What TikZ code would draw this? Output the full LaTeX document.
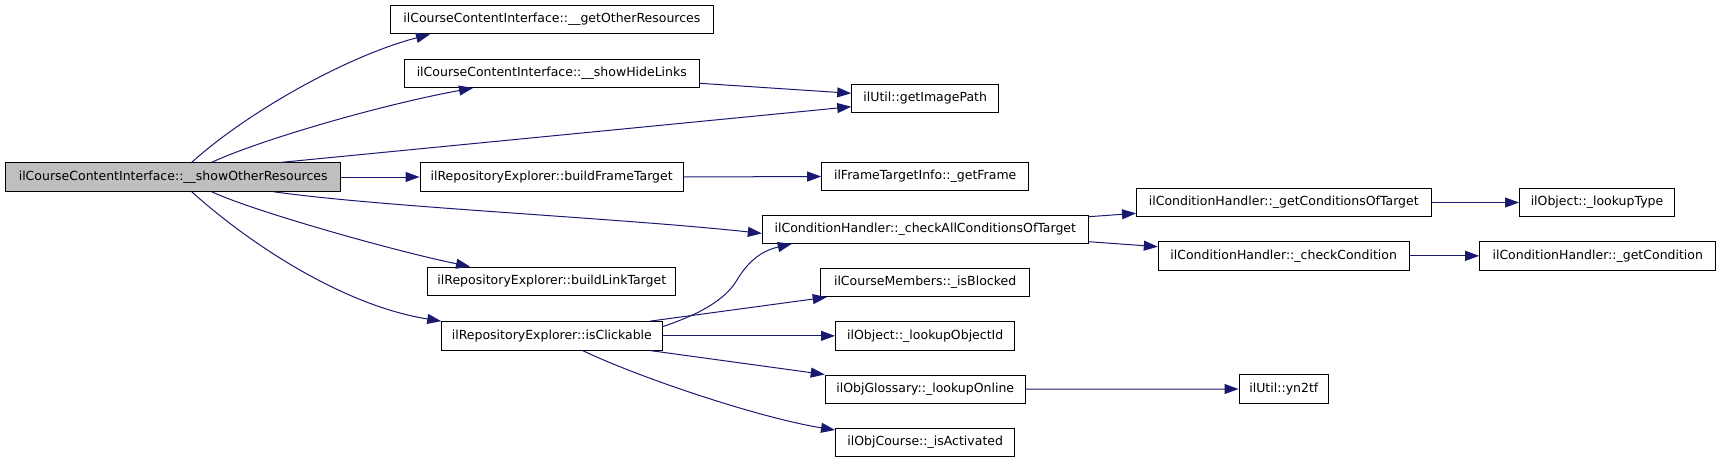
\documentclass[tikz,border=0pt]{standalone}
\usepackage{fontspec}
\setmainfont{DejaVu Sans}
\usetikzlibrary{arrows.meta}
\definecolor{midblue}{HTML}{191970}
\definecolor{nodegray}{HTML}{BFBFBF}
\begin{document}
\begin{tikzpicture}[x=1pt,y=-1pt,
  box/.style={draw=black, line width=1pt, rectangle, minimum height=28.4pt, inner sep=0pt, font=\fontsize{12.5}{15}\selectfont},
  conn/.style={draw=midblue, line width=1pt, -{Triangle[length=14pt,width=10pt]}}]
\useasboundingbox (0,0) rectangle (1720,463);
% nodes
\node[box, fill=nodegray, minimum width=335pt] (main) at (173.2,177) {ilCourseContentInterface::\_\_showOtherResources};
\node[box, minimum width=323.7pt] (getOther) at (551.85,19.7) {ilCourseContentInterface::\_\_getOtherResources};
\node[box, minimum width=295pt] (showHide) at (551.8,73.3) {ilCourseContentInterface::\_\_showHideLinks};
\node[box, minimum width=263.3pt] (buildFrame) at (551.65,177) {ilRepositoryExplorer::buildFrameTarget};
\node[box, minimum width=248.2pt] (buildLink) at (551.8,281.3) {ilRepositoryExplorer::buildLinkTarget};
\node[box, minimum width=220.3pt] (isClickable) at (551.85,335.85) {ilRepositoryExplorer::isClickable};
\node[box, minimum width=147pt] (getImagePath) at (925.2,98.5) {ilUtil::getImagePath};
\node[box, minimum width=207pt] (getFrame) at (925.2,176.5) {ilFrameTargetInfo::\_getFrame};
\node[box, minimum width=326pt] (checkAll) at (925.3,229.2) {ilConditionHandler::\_checkAllConditionsOfTarget};
\node[box, minimum width=208.6pt] (isBlocked) at (925.1,282.5) {ilCourseMembers::\_isBlocked};
\node[box, minimum width=179.4pt] (lookupObjectId) at (925.2,335.85) {ilObject::\_lookupObjectId};
\node[box, minimum width=200pt] (lookupOnline) at (925.2,389.2) {ilObjGlossary::\_lookupOnline};
\node[box, minimum width=179.4pt] (isActivated) at (925.2,442.5) {ilObjCourse::\_isActivated};
\node[box, minimum width=294.5pt] (condOfTarget) at (1283.75,202.5) {ilConditionHandler::\_getConditionsOfTarget};
\node[box, minimum width=250.7pt] (checkCondition) at (1283.65,255.85) {ilConditionHandler::\_checkCondition};
\node[box, minimum width=89.7pt] (yn2tf) at (1283.85,389) {ilUtil::yn2tf};
\node[box, minimum width=155pt] (lookupType) at (1597,202.5) {ilObject::\_lookupType};
\node[box, minimum width=236.1pt] (getCondition) at (1597.75,255.85) {ilConditionHandler::\_getCondition};
% connectors
\draw[conn] ([xshift=18.5pt]main.north) .. controls (250,110) and (350,55) .. ([xshift=-121.85pt]getOther.south);
\draw[conn] ([xshift=38.5pt]main.north) .. controls (260,140) and (380,105) .. ([xshift=-78.8pt]showHide.south);
\draw[conn] ([xshift=108.5pt]main.north) -- ([yshift=-8.2pt]getImagePath.west);
\draw[conn] ([yshift=-10pt]showHide.east) -- ([yshift=5.2pt]getImagePath.west);
\draw[conn] (main.east) -- (buildFrame.west);
\draw[conn] (buildFrame.east) -- (getFrame.west);
\draw[conn] ([xshift=100.1pt]main.south) .. controls (380,207) and (620,218) .. ([yshift=-4.2pt]checkAll.west);
\draw[conn] ([xshift=38.5pt]main.south) .. controls (250,210) and (390,250) .. ([xshift=-81.8pt]buildLink.north);
\draw[conn] ([xshift=18.5pt]main.south) .. controls (245,240) and (340,305) .. (isClickable.north west);
\draw[conn] ([yshift=9.15pt]isClickable.east) .. controls (700,314) and (725,300) .. (737,280) .. controls (750,258) and (765,250) .. ([xshift=-133.6pt]checkAll.south);
\draw[conn] ([xshift=98.15pt]isClickable.north) -- ([xshift=-98.4pt]isBlocked.south);
\draw[conn] (isClickable.east) -- (lookupObjectId.west);
\draw[conn] ([xshift=98.15pt]isClickable.south) -- (lookupOnline.north west);
\draw[conn] ([xshift=30.75pt]isClickable.south) .. controls (640,378) and (760,418) .. ([yshift=12.5pt]isActivated.west);
\draw[conn] (lookupOnline.east) -- (yn2tf.west);
\draw[conn] ([yshift=12.5pt]checkAll.east) -- ([yshift=-10.8pt]condOfTarget.west);
\draw[conn] ([yshift=-12.5pt]checkAll.east) -- ([yshift=9.15pt]checkCondition.west);
\draw[conn] (condOfTarget.east) -- (lookupType.west);
\draw[conn] (checkCondition.east) -- (getCondition.west);
\end{tikzpicture}
\end{document}
